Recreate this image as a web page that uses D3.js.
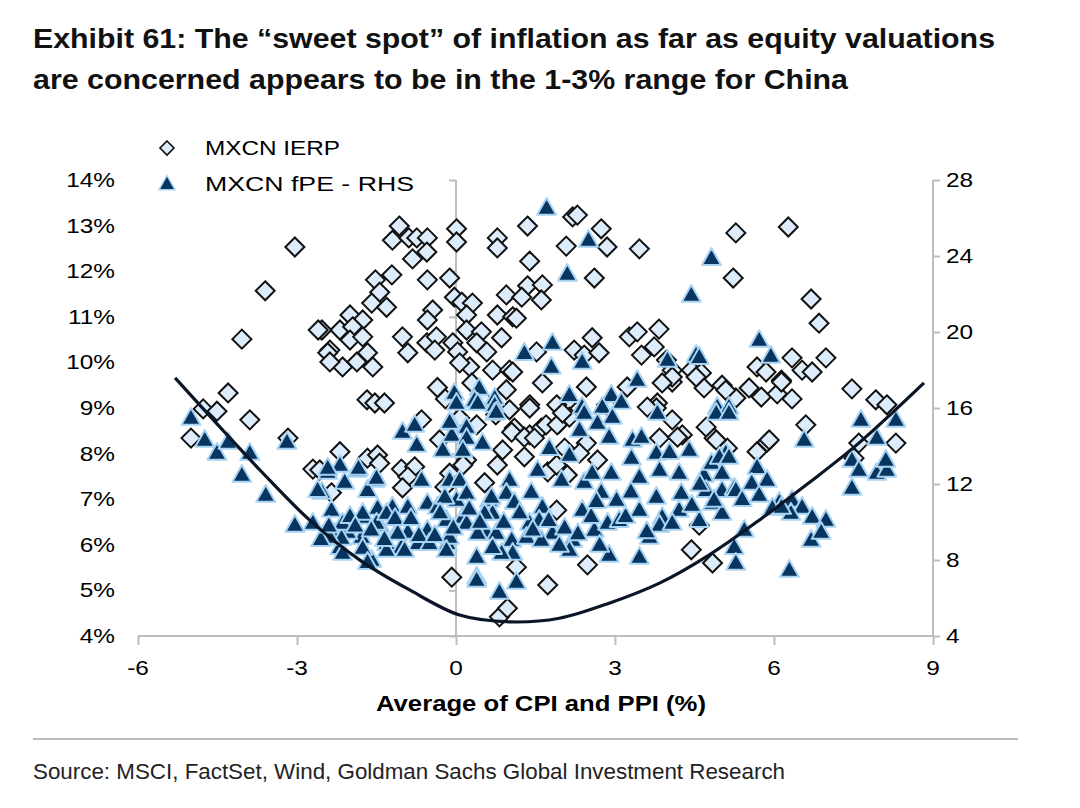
<!DOCTYPE html>
<html><head><meta charset="utf-8">
<script src="https://cdn.jsdelivr.net/npm/d3@7"></script>
<style>
body{margin:0;background:#fff;}
svg{display:block;font-family:"Liberation Sans",Arial,sans-serif;}
</style></head>
<body><svg id="chart" width="1080" height="808"></svg>
<script>
const titleLines = ["Exhibit 61: The \u201Csweet spot\u201D of inflation as far as equity valuations",
                    "are concerned appears to be in the 1-3% range for China"];
const sourceText = "Source: MSCI, FactSet, Wind, Goldman Sachs Global Investment Research";
const xTitle = "Average of CPI and PPI (%)";
const seriesNames = ["MXCN IERP", "MXCN fPE - RHS"];
const xTicks = [-6, -3, 0, 3, 6, 9];
const yLeftTicks = [4,5,6,7,8,9,10,11,12,13,14];
const yRightTicks = [4,8,12,16,20,24,28];

// MXCN IERP (left axis, %)
const ierpX = [-3.04,-3.60,-4.04,-4.30,-3.89,-4.77,-4.51,-5.00,-3.17,-2.19,-1.68,-1.53,-1.35,-2.70,-1.67,-1.48,-2.35,-1.03,-0.78,-0.91,-1.01,-0.65,-0.08,-0.21,-0.12,-0.31,
 -1.07,-1.20,-0.89,-0.74,-0.54,-0.55,-0.82,0.01,0.01,0.78,0.78,-1.21,-1.52,-0.54,-0.12,-1.44,-1.59,-1.31,-0.03,0.11,0.31,0.20,-0.44,-0.54,-2.00,-1.76,-2.19,-1.95,-2.00,-1.76,-2.53,-1.01,-0.91,-0.55,-0.37,-0.40,-2.38,-2.14,-1.87,-1.67,-1.57,-0.06,0.03,0.20,0.48,0.39,0.58,0.69,1.01,0.86,0.95,0.78,1.07,0.26,0.07,-2.60,-2.42,-2.38,
 1.35,2.20,2.29,2.74,2.08,2.85,3.46,1.39,2.61,1.35,1.63,1.24,1.61,1.14,2.57,2.23,2.42,2.70,1.52,3.27,3.42,3.83,3.50,3.74,3.97,4.08,4.44,4.63,4.68,1.63,2.46,1.07,1.39,2.08,3.80,3.23,4.08,
 5.28,6.27,5.23,6.70,6.85,6.34,6.98,5.68,5.85,6.14,6.53,6.72,5.02,5.28,5.53,5.76,6.06,6.34,7.47,7.92,8.13,6.60,5.87,5.68,4.72,4.87,5.12,4.59,4.84,7.60,8.30,7.51,
 1.39,1.01,1.10,1.39,1.61,1.90,1.95,2.14,0.16,0.39,0.88,1.29,0.78,0.20,0.54,1.90,1.14,1.73,2.48,0.82,0.97,3.78,4.08,3.84,4.27,4.91,5.91,4.44,3.61,5.09,4.08,3.89,4.53,6.14,
 0.13,0.07,1.05,-1.44,-2.57,1.70,1.91,1.29,1.48,2.01,2.05,1.73,1.90,2.10,2.46,2.33,2.67,2.84,4.18,0.30,0.50,0.75,0.95,-0.35,-0.20];
const ierpY = [12.53,11.57,10.51,9.33,8.74,8.98,8.93,8.34,8.34,8.04,9.18,9.11,9.11,7.66,7.90,7.97,7.14,7.66,7.71,7.49,7.25,8.74,5.29,7.27,7.57,8.30,
 12.99,12.68,12.73,12.73,12.73,12.42,12.27,12.93,12.64,12.73,12.51,11.92,11.81,11.81,11.85,11.54,11.30,11.21,11.43,11.32,11.30,11.04,11.15,10.93,11.04,10.93,10.71,10.78,10.49,10.56,10.71,10.56,10.21,10.43,10.56,10.27,10.27,9.90,10.01,10.21,9.90,10.43,10.23,10.71,10.67,10.43,10.23,9.83,9.83,10.54,11.48,11.04,11.00,9.90,9.99,10.71,10.21,10.01,
 12.99,13.19,13.23,12.93,12.55,12.53,12.49,12.22,11.85,11.68,11.70,11.43,11.37,10.97,10.54,10.27,10.16,10.21,10.23,10.56,10.67,10.73,10.16,10.34,10.05,9.83,9.83,9.77,9.44,9.55,9.46,9.79,9.07,9.11,9.11,9.46,9.57,
 12.84,12.97,11.85,11.39,10.86,10.10,10.10,9.90,9.79,9.61,9.83,9.79,9.50,9.22,9.44,9.24,9.31,9.20,9.42,9.18,9.07,8.63,8.25,8.04,8.58,8.34,8.12,6.43,5.60,8.23,8.23,7.90,
 9.00,8.96,8.56,8.41,8.56,9.07,8.67,8.80,8.58,8.63,8.08,7.93,7.75,7.86,7.36,6.76,5.51,5.12,5.56,4.42,4.61,9.00,8.74,8.34,8.41,8.30,8.30,5.89,9.02,9.39,9.68,9.55,9.68,9.57,
 7.75,8.78,8.47,7.79,7.64,8.63,8.63,8.36,8.34,8.89,8.12,7.60,7.75,7.53,8.23,8.01,7.86,9.07,8.36,9.55,9.20,8.85,9.40,9.45,9.20];

// MXCN fPE (right axis)
const fpeX = [1.71,2.50,2.10,4.44,4.82,1.82,1.29,1.80,2.38,3.99,4.53,3.42,2.14,2.93,3.12,2.38,2.76,5.72,5.94,4.59,4.93,5.15,-0.03,0.44,0.73,0.35,
 -1.01,-0.78,-0.74,-2.19,-2.42,-1.86,-2.10,-1.53,-1.67,-2.53,-2.35,-0.65,-1.20,-0.91,-1.48,-1.76,-1.44,-1.12,-0.91,-0.54,-0.35,0.01,0.13,-0.18,-0.54,-0.16,0.39,0.39,0.82,-1.59,-2.19,-2.29,-1.78,-2.04,-1.31,-1.03,-0.72,-0.50,-1.76,-2.14,-0.12,0.07,0.20,0.63,0.69,0.58,1.01,0.95,1.05,1.07,0.86,-0.08,-0.08,0.20,0.20,-0.25,0.13,0.50,0.41,0.73,0.73,0.01,
 -5.00,-4.74,-4.51,-4.30,-4.04,-3.89,-3.59,-3.19,-3.04,-2.70,-2.16,-1.67,-2.61,-2.42,-1.84,-1.50,-2.14,-1.76,-1.50,-1.31,-1.10,-0.12,-0.12,-0.18,-0.21,-1.31,-0.97,-2.38,
 0.76,2.42,2.67,2.95,2.33,2.89,1.76,2.14,1.54,1.42,1.99,1.63,1.10,0.67,0.54,0.20,0.41,0.76,0.69,1.39,1.33,1.82,1.61,2.20,2.14,2.61,2.86,2.89,3.46,2.38,2.42,2.57,2.93,2.74,3.03,3.33,3.50,3.31,3.78,4.03,4.40,3.84,3.46,4.21,3.78,3.46,3.89,4.25,4.21,3.84,4.08,
 4.68,4.82,5.09,5.02,4.72,5.02,4.84,5.02,5.25,4.91,5.15,3.80,5.68,5.87,5.58,5.72,6.10,6.34,5.97,6.53,6.72,6.98,6.70,6.32,5.25,5.28,6.29,6.57,7.64,8.30,7.94,7.47,7.60,7.94,8.13,8.11,7.47,1.14,0.39,
 4.97,5.15,5.28,4.87,6.14,6.89,1.57,1.95,2.71,3.08,3.65,4.59,5.44,
 -2.00,-1.90,-1.60,-1.35,-1.15,-0.85,-0.70,-0.40,-0.30,-0.05,0.25,0.45,0.90,1.20,1.45,1.75,2.05,2.30,2.55,2.65,3.20,3.60,3.30,4.45,4.60,5.40,-2.55,-2.40];
const fpeY = [26.53,24.84,23.05,21.95,23.89,19.42,18.89,18.16,18.42,18.53,18.79,17.47,16.68,16.68,16.32,16.05,16.05,19.58,18.74,18.68,16.05,16.05,16.79,17.05,16.53,16.42,
 14.74,15.11,14.05,13.00,12.63,12.74,12.11,12.21,11.68,11.58,10.63,12.21,10.79,10.79,10.74,10.26,9.84,9.47,9.47,11.00,10.79,11.16,10.26,10.11,9.58,8.89,8.16,7.11,6.32,8.00,8.68,9.42,9.21,9.47,8.89,8.68,8.89,8.89,8.63,8.37,12.21,12.21,11.53,11.16,10.47,9.42,12.21,11.53,9.05,8.37,8.37,15.21,14.58,15.00,14.42,13.79,13.79,14.16,16.26,16.16,15.74,16.26,
 15.47,14.32,13.63,14.21,12.47,13.63,11.42,14.21,9.84,9.95,9.16,7.89,11.68,12.84,12.84,12.32,9.95,10.47,9.95,10.47,9.42,15.26,9.21,8.53,11.32,8.53,8.53,9.21,
 15.79,15.74,15.21,15.53,14.84,14.47,13.89,13.53,12.74,11.58,12.21,10.79,11.05,11.32,10.47,9.95,9.42,9.42,8.68,9.95,9.21,9.42,9.05,9.05,8.53,9.58,9.95,8.26,8.16,10.63,12.11,12.58,12.58,11.58,11.16,14.32,14.47,13.37,13.63,13.68,13.79,12.74,12.37,12.58,11.32,10.63,10.26,11.53,10.63,9.84,9.95,
 12.47,13.11,13.63,12.58,11.68,11.68,11.00,10.47,11.79,15.74,15.74,15.74,12.89,12.21,12.05,11.42,11.05,11.16,10.74,10.79,10.26,10.11,9.05,10.47,8.68,7.84,7.47,14.32,15.37,15.37,14.42,13.26,12.74,12.58,12.74,13.26,11.79,6.84,6.95,
 13.42,13.42,11.68,11.16,10.79,9.47,10.10,8.79,8.79,10.10,9.21,10.10,9.58,
 10.30,9.80,9.60,9.10,10.20,10.20,9.30,9.30,10.50,9.70,10.70,10.00,10.00,10.50,9.60,10.10,9.70,9.40,10.30,11.10,10.30,9.50,11.60,10.90,12.00,11.20,9.10,9.80];

// fitted trend line (left axis, %)
const trendX = [-5.30,-3.70,-2.76,-1.82,-0.875,0.068,1.01,1.95,2.89,3.84,4.78,5.72,6.66,7.60,8.83];
const trendY = [9.66,7.64,6.54,5.67,5.01,4.46,4.31,4.39,4.72,5.16,5.78,6.54,7.36,8.23,9.55];

const svg = d3.select("#chart");
const x = d3.scaleLinear().domain([-6, 9]).range([138, 933]);
const yL = d3.scaleLinear().domain([4, 14]).range([636, 180]);
const yR = d3.scaleLinear().domain([4, 28]).range([636, 180]);
const axisGrey = "#bdbdbd";
const ink = "#000";
const WIDEN = 1.16; // reference type is set a little wider than the local fonts
function widen(sel, f) {
  sel.each(function(){ const w = this.getComputedTextLength();
    d3.select(this).attr("textLength", w * (f || WIDEN)).attr("lengthAdjust","spacingAndGlyphs"); });
}

// Title
svg.selectAll("text.title").data(titleLines).join("text")
  .attr("class","title")
  .attr("x", 33).attr("y", (d,i)=> 48 + i*41)
  .attr("font-size", 28).attr("font-weight", "bold").attr("fill", "#111")
  .attr("textLength", (d,i)=> i===0 ? 962 : 815).attr("lengthAdjust","spacingAndGlyphs")
  .text(d=>d);

// Axes
const gx = svg.append("g").attr("transform", `translate(0,${yL(4)})`)
  .call(d3.axisBottom(x).tickValues(xTicks).tickSize(9).tickFormat(""));
const gl = svg.append("g").attr("transform", `translate(${x(0)},0)`)
  .call(d3.axisLeft(yL).tickValues(yLeftTicks).tickSize(7).tickFormat(""));
const gr = svg.append("g").attr("transform", `translate(${x(9)},0)`)
  .call(d3.axisRight(yR).tickValues(yRightTicks).tickSize(7).tickFormat(""));
[gx, gl, gr].forEach(g => {
  g.selectAll("path.domain").attr("stroke", axisGrey).attr("stroke-width", 2);
  g.selectAll(".tick line").attr("stroke", axisGrey).attr("stroke-width", 2);
});
gl.select("path.domain").attr("d", `M0,${yL(4)}V${yL(14)}`);
gr.select("path.domain").attr("d", `M0,${yR(4)}V${yR(28)}`);
gx.select("path.domain").attr("d", `M${x(-6)},0H${x(9)}`);

// Tick labels
svg.selectAll("text.xl").data(xTicks).join("text").attr("class","xl")
  .attr("x", d=>x(d)).attr("y", 675).attr("text-anchor","middle")
  .attr("font-size", 21).attr("fill", ink).text(d=>d).call(widen);
svg.selectAll("text.yl").data(yLeftTicks).join("text").attr("class","yl")
  .attr("x", 115).attr("y", d=>yL(d)+7).attr("text-anchor","end")
  .attr("font-size", 21).attr("fill", ink).text(d=>d+"%").call(widen);
svg.selectAll("text.yr").data(yRightTicks).join("text").attr("class","yr")
  .attr("x", 946).attr("y", d=>yR(d)+7).attr("text-anchor","start")
  .attr("font-size", 21).attr("fill", ink).text(d=>d).call(widen);

svg.append("text").attr("x", 541).attr("y", 711).attr("text-anchor","middle")
  .attr("font-size", 22).attr("font-weight","bold").attr("fill", ink).text(xTitle)
  .attr("textLength", 330).attr("lengthAdjust","spacingAndGlyphs");

// Markers
const diamond = r => `M0,${-r}L${r},0L0,${r}L${-r},0Z`;
const tri = s => `M0,${-s}L${s*0.95},${s*0.68}L${-s*0.95},${s*0.68}Z`;

const ierp = ierpX.map((v,i)=>({x:v, y:ierpY[i]}));
const fpe = fpeX.map((v,i)=>({x:v, y:fpeY[i]}));

svg.append("g").selectAll("path").data(ierp).join("path")
  .attr("d", diamond(9.5))
  .attr("transform", d=>`translate(${x(d.x)},${yL(d.y)})`)
  .attr("fill", "#dcecfb").attr("stroke", "#111").attr("stroke-width", 2);

svg.append("g").selectAll("path").data(fpe).join("path")
  .attr("d", tri(10))
  .attr("transform", d=>`translate(${x(d.x)},${yR(d.y)})`)
  .attr("fill", "#07355f").attr("stroke", "#a8d3f2").attr("stroke-width", 2).attr("stroke-linejoin","round");

// Trend line
const trend = trendX.map((v,i)=>({x:v, y:trendY[i]}));
svg.append("path").datum(trend)
  .attr("d", d3.line().x(d=>x(d.x)).y(d=>yL(d.y)).curve(d3.curveCatmullRom.alpha(0.5)))
  .attr("fill","none").attr("stroke","#0a1626").attr("stroke-width",3.2);

// Legend
const leg = svg.append("g");
leg.append("path").attr("d", diamond(7)).attr("transform","translate(167,148)")
  .attr("fill","#dcecfb").attr("stroke","#111").attr("stroke-width",1.6);
leg.append("path").attr("d", tri(8.5)).attr("transform","translate(167,184)")
  .attr("fill","#07355f").attr("stroke","#a8d3f2").attr("stroke-width",1.5);
leg.selectAll("text").data(seriesNames).join("text")
  .attr("x", 205).attr("y", (d,i)=> 155 + i*36)
  .attr("font-size", 20).attr("fill", ink).text(d=>d)
  .attr("textLength", (d,i)=> i===0 ? 135 : 209).attr("lengthAdjust","spacingAndGlyphs");

// Separator and source
svg.append("line").attr("x1",33).attr("x2",1018).attr("y1",739).attr("y2",739)
  .attr("stroke","#bcbcbc").attr("stroke-width",2);
svg.append("text").attr("x",33).attr("y",779).attr("font-size",22).attr("fill","#222")
  .attr("textLength", 752).attr("lengthAdjust","spacingAndGlyphs").text(sourceText);
</script></body></html>
